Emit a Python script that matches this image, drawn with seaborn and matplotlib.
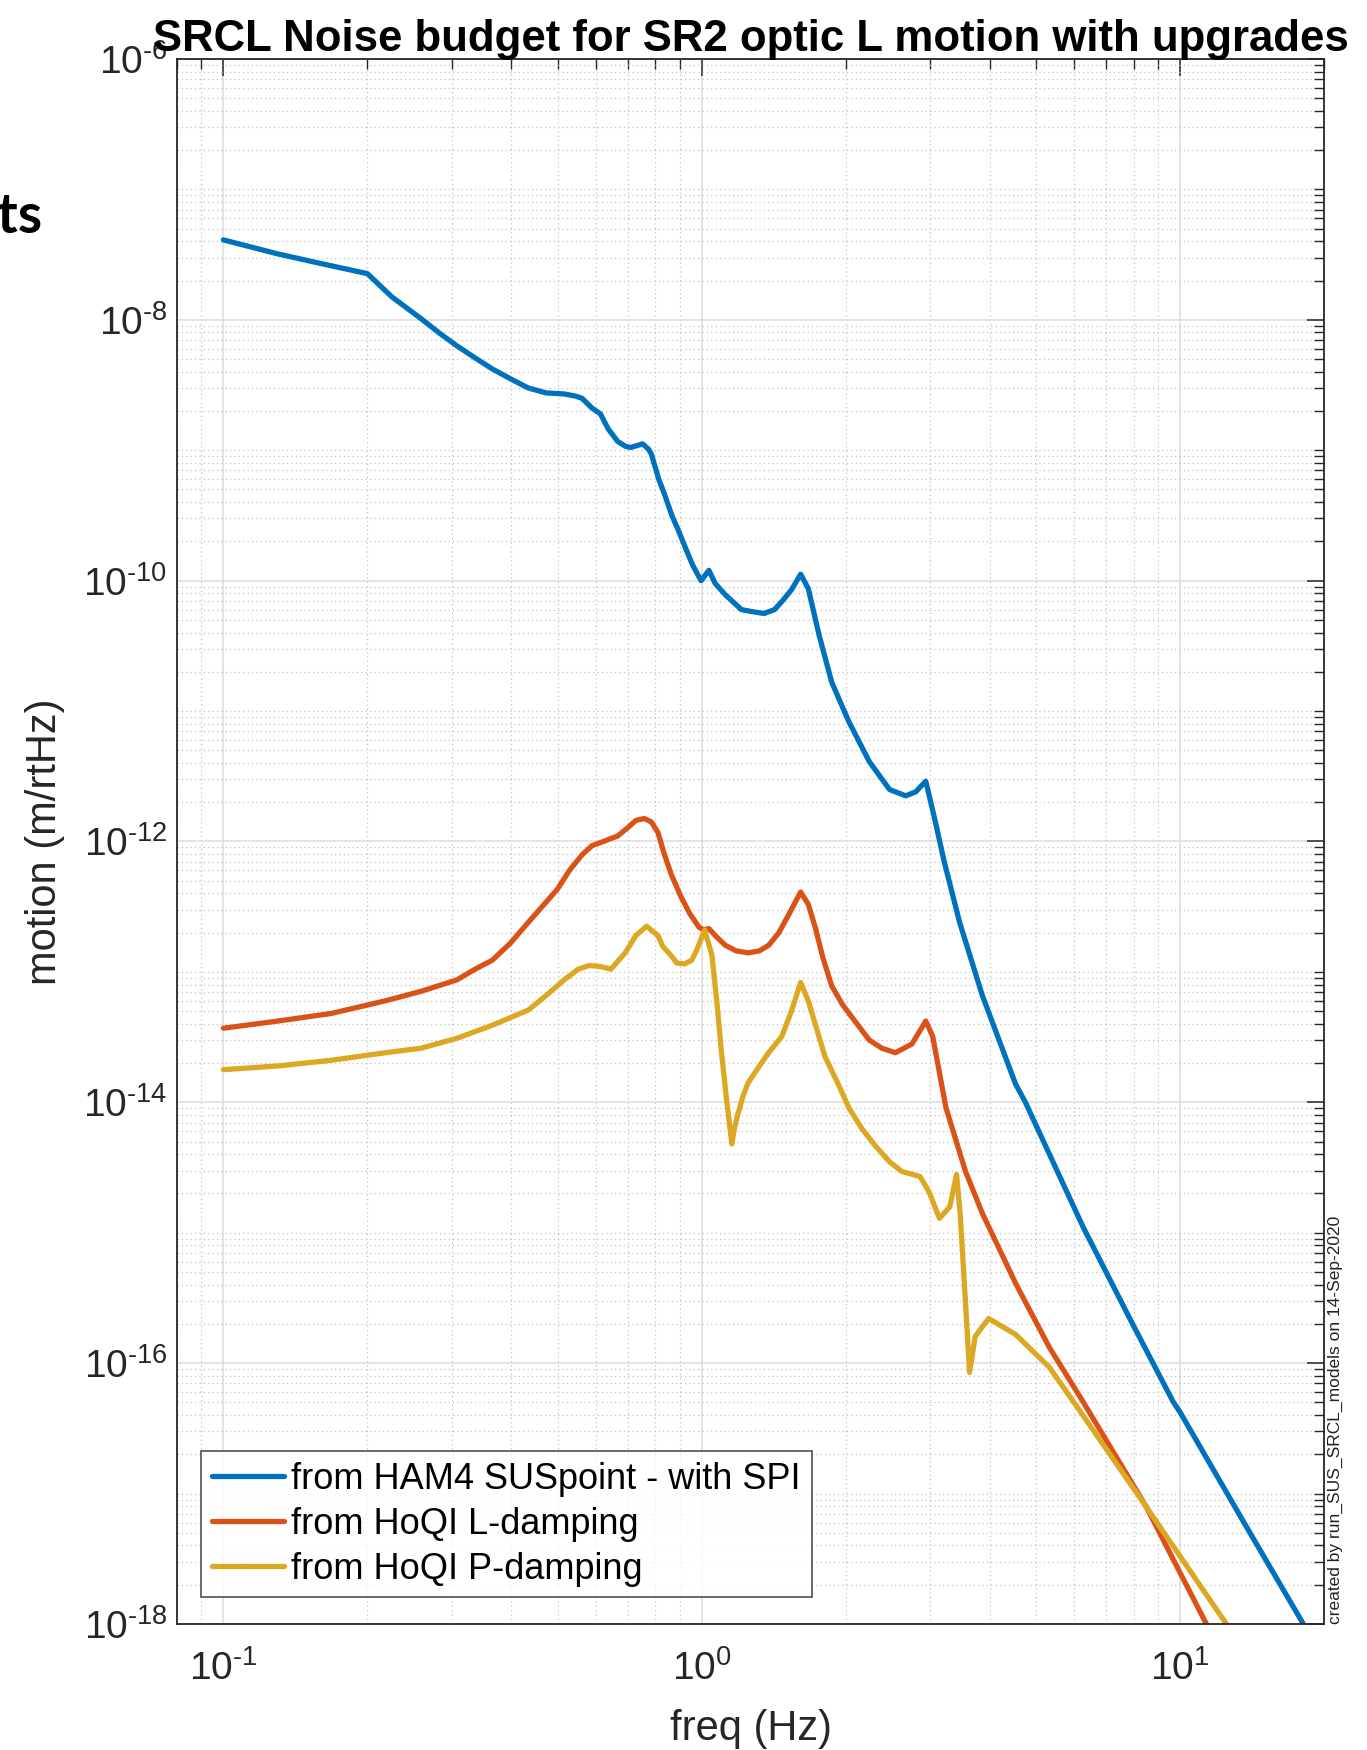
import numpy as np
import pandas as pd
import matplotlib
matplotlib.use('Agg')  # no display
import matplotlib.pyplot as plt
import seaborn as sns
from matplotlib.ticker import LogLocator, NullFormatter, FixedLocator, FuncFormatter

# values (freq in Hz, motion in m/rtHz)
freq_ham4 = [0.1, 0.13, 0.16, 0.2, 0.225, 0.259, 0.283, 0.308, 0.336, 0.365,
             0.40, 0.434, 0.473, 0.516, 0.545, 0.562, 0.59, 0.614, 0.638, 0.667,
             0.693, 0.71, 0.741, 0.752, 0.774, 0.785, 0.813, 0.836, 0.865, 0.895,
             0.925, 0.957, 0.98, 0.997, 1.035, 1.067, 1.12, 1.21, 1.27, 1.35,
             1.42, 1.47, 1.54, 1.61, 1.67, 1.76, 1.87, 2.03, 2.24, 2.47,
             2.67, 2.8, 2.94, 3.08, 3.21, 3.46, 3.86, 4.53, 4.75, 6.26,
             7.9, 9.66, 10.0, 14.0, 18.1]
motion_ham4 = [4.1e-8, 3.2e-8, 2.7e-8, 2.26e-8, 1.5e-8, 1.02e-8, 7.9e-9, 6.3e-9, 5.1e-9, 4.2e-9,
               3.5e-9, 3.0e-9, 2.75e-9, 2.7e-9, 2.6e-9, 2.5e-9, 2.1e-9, 1.9e-9, 1.45e-9, 1.17e-9,
               1.07e-9, 1.05e-9, 1.1e-9, 1.12e-9, 1.02e-9, 9.3e-10, 6.0e-10, 4.6e-10, 3.2e-10, 2.4e-10,
               1.78e-10, 1.32e-10, 1.12e-10, 1.0e-10, 1.2e-10, 9.5e-11, 7.8e-11, 6.0e-11, 5.8e-11, 5.6e-11,
               6.0e-11, 6.9e-11, 8.5e-11, 1.12e-10, 8.7e-11, 3.8e-11, 1.66e-11, 8.3e-12, 4.1e-12, 2.5e-12,
               2.24e-12, 2.4e-12, 2.9e-12, 1.41e-12, 7.1e-13, 2.4e-13, 6.6e-14, 1.38e-14, 1.0e-14, 1.12e-15,
               2.1e-16, 5.1e-17, 4.2e-17, 5.0e-18, 1.0e-18]

freq_ldamp = [0.1, 0.13, 0.168, 0.218, 0.259, 0.308, 0.336, 0.365, 0.398, 0.434,
              0.465, 0.499, 0.529, 0.562, 0.59, 0.614, 0.644, 0.667, 0.703, 0.728,
              0.759, 0.785, 0.81, 0.836, 0.865, 0.904, 0.944, 0.987, 1.01, 1.035,
              1.067, 1.12, 1.18, 1.25, 1.32, 1.38, 1.45, 1.52, 1.61, 1.67,
              1.73, 1.79, 1.87, 1.97, 2.1, 2.24, 2.38, 2.54, 2.75, 2.94,
              3.04, 3.24, 3.56, 3.86, 4.53, 5.33, 6.26, 8.5, 11.35]
motion_ldamp = [3.7e-14, 4.2e-14, 4.8e-14, 6.0e-14, 7.1e-14, 8.7e-14, 1.05e-13, 1.23e-13, 1.66e-13, 2.4e-13,
                3.2e-13, 4.3e-13, 6.0e-13, 7.9e-13, 9.3e-13, 9.8e-13, 1.05e-12, 1.1e-12, 1.29e-12, 1.45e-12,
                1.5e-12, 1.41e-12, 1.17e-12, 7.9e-13, 5.5e-13, 3.8e-13, 2.8e-13, 2.2e-13, 2.1e-13, 2.15e-13,
                1.9e-13, 1.6e-13, 1.45e-13, 1.4e-13, 1.45e-13, 1.6e-13, 2.0e-13, 2.75e-13, 4.1e-13, 3.3e-13,
                2.15e-13, 1.3e-13, 7.8e-14, 5.6e-14, 4.1e-14, 3.0e-14, 2.6e-14, 2.4e-14, 2.8e-14, 4.2e-14,
                3.2e-14, 9.1e-15, 2.95e-15, 1.41e-15, 4.1e-16, 1.32e-16, 5.1e-17, 7.9e-18, 1.0e-18]

freq_pdamp = [0.1, 0.13, 0.168, 0.218, 0.259, 0.308, 0.365, 0.434, 0.473, 0.516,
              0.552, 0.582, 0.614, 0.646, 0.693, 0.728, 0.767, 0.81, 0.828, 0.865,
              0.887, 0.92, 0.953, 0.977, 1.014, 1.05, 1.075, 1.10, 1.127, 1.156,
              1.17, 1.19, 1.22, 1.25, 1.32, 1.38, 1.47, 1.54, 1.61, 1.67,
              1.73, 1.81, 1.94, 2.03, 2.16, 2.31, 2.47, 2.62, 2.86, 2.99,
              3.14, 3.30, 3.41, 3.47, 3.56, 3.63, 3.73, 3.86, 3.98, 4.53,
              5.33, 6.26, 8.5, 12.5]
motion_pdamp = [1.78e-14, 1.9e-14, 2.1e-14, 2.4e-14, 2.6e-14, 3.1e-14, 3.9e-14, 5.1e-14, 6.6e-14, 8.7e-14,
                1.05e-13, 1.12e-13, 1.1e-13, 1.05e-13, 1.41e-13, 1.9e-13, 2.24e-13, 1.9e-13, 1.58e-13, 1.32e-13,
                1.17e-13, 1.15e-13, 1.23e-13, 1.48e-13, 2.1e-13, 1.35e-13, 6.0e-14, 2.4e-14, 1.05e-14, 4.8e-15,
                6.3e-15, 8.1e-15, 1.12e-14, 1.41e-14, 1.9e-14, 2.4e-14, 3.2e-14, 5.0e-14, 8.3e-14, 6.0e-14,
                3.9e-14, 2.24e-14, 1.32e-14, 9.1e-15, 6.3e-15, 4.6e-15, 3.5e-15, 2.95e-15, 2.7e-15, 2.04e-15,
                1.29e-15, 1.58e-15, 2.8e-15, 1.38e-15, 2.9e-16, 8.5e-17, 1.6e-16, 1.9e-16, 2.2e-16, 1.66e-16,
                9.3e-17, 4.0e-17, 7.9e-18, 1.0e-18]

labels = ['from HAM4 SUSpoint - with SPI', 'from HoQI L-damping', 'from HoQI P-damping']
colors = ['#0072BD', '#D95319', '#DCA823']
x_major = [0.1, 1, 10]
y_major = [1e-18, 1e-16, 1e-14, 1e-12, 1e-10, 1e-8, 1e-6]

sns.set_style('white')
plt.rcParams['font.family'] = ['Liberation Sans', 'DejaVu Sans']
plt.rcParams['mathtext.fontset'] = 'custom'
plt.rcParams['mathtext.rm'] = 'Liberation Sans'
plt.rcParams['mathtext.it'] = 'Liberation Sans:italic'
plt.rcParams['mathtext.bf'] = 'Liberation Sans:bold'
plt.rcParams['axes.unicode_minus'] = False


def pow10_label(v, pos):
    # MATLAB style: 10 with a short hyphen in the exponent
    e = int(round(np.log10(v)))
    if e < 0:
        return r'$\mathdefault{10^{\text{-}%d}}$' % (-e)
    return r'$\mathdefault{10^{%d}}$' % e


df = pd.concat([
    pd.DataFrame({'freq': freq_ham4, 'motion': motion_ham4, 'source': labels[0]}),
    pd.DataFrame({'freq': freq_ldamp, 'motion': motion_ldamp, 'source': labels[1]}),
    pd.DataFrame({'freq': freq_pdamp, 'motion': motion_pdamp, 'source': labels[2]}),
], ignore_index=True)

fig = plt.figure(figsize=(13.67, 17.5), dpi=100)
ax = fig.add_axes([0.1295, 0.072, 0.8391, 0.8943])

sns.lineplot(data=df, x='freq', y='motion', hue='source', hue_order=labels,
             palette=colors, linewidth=3.8, estimator=None, sort=False,
             legend=False, ax=ax)
for ln in ax.lines:
    ln.set_solid_joinstyle('round')
    ln.set_solid_capstyle('round')

ax.set_xscale('log')
ax.set_yscale('log')
ax.set_xlim(0.08, 20)
ax.set_ylim(1e-18, 1e-6)

ax.xaxis.set_major_locator(FixedLocator(x_major))
ax.yaxis.set_major_locator(FixedLocator(y_major))
ax.xaxis.set_minor_locator(LogLocator(base=10, subs=np.arange(1, 10), numticks=100))
ax.yaxis.set_minor_locator(LogLocator(base=10, subs=np.arange(1, 10), numticks=100))
ax.xaxis.set_major_formatter(FuncFormatter(pow10_label))
ax.yaxis.set_major_formatter(FuncFormatter(pow10_label))
ax.xaxis.set_minor_formatter(NullFormatter())
ax.yaxis.set_minor_formatter(NullFormatter())

dark = '#262626'
ax.tick_params(which='both', direction='in', top=True, right=True, color=dark,
               labelcolor=dark, labelsize=28)
ax.tick_params(which='major', length=12, width=1.1)
ax.tick_params(which='minor', length=7, width=1.0)
ax.tick_params(axis='y', which='major', pad=7)
ax.tick_params(axis='x', which='major', pad=19)
for sp in ax.spines.values():
    sp.set_color(dark)
    sp.set_linewidth(1.3)

ax.set_axisbelow(True)
ax.grid(which='major', color='#dcdcdc', linewidth=1.1, linestyle='-')
ax.grid(which='minor', color='#c2c2c2', linewidth=0.9, linestyle=(0, (1, 2.5)))

ax.set_title('SRCL Noise budget for SR2 optic L motion with upgrades',
             fontsize=31.5, fontweight='bold', color='black', pad=6)
ax.set_xlabel('freq (Hz)', fontsize=30, color=dark)
ax.set_ylabel('motion (m/rtHz)', fontsize=30, color=dark)
ax.xaxis.set_label_coords(0.5, -0.054)
ax.yaxis.set_label_coords(-0.098, 0.5)

leg = ax.legend(ax.lines[:3], labels, loc='lower left', bbox_to_anchor=(0.021, 0.017),
                borderaxespad=0, fontsize=26, frameon=True, fancybox=False,
                handlelength=2.0, handletextpad=0.2, labelspacing=0.27,
                borderpad=0.3)
leg.get_frame().set_edgecolor(dark)
leg.get_frame().set_linewidth(1.2)
for t in leg.get_texts():
    t.set_color('black')

fig.text(1328 / 1367, 126 / 1750, 'created by run_SUS_SRCL_models on 14-Sep-2020',
         rotation=90, ha='left', va='bottom', fontsize=12.5, color='#222222')
fig.text(42 / 1367, 1 - 233 / 1750, 'ts', ha='right', va='baseline',
         fontsize=40, fontweight='bold', family=['Lato', 'DejaVu Sans'], color='black')

fig.savefig('out.png', dpi=100)
